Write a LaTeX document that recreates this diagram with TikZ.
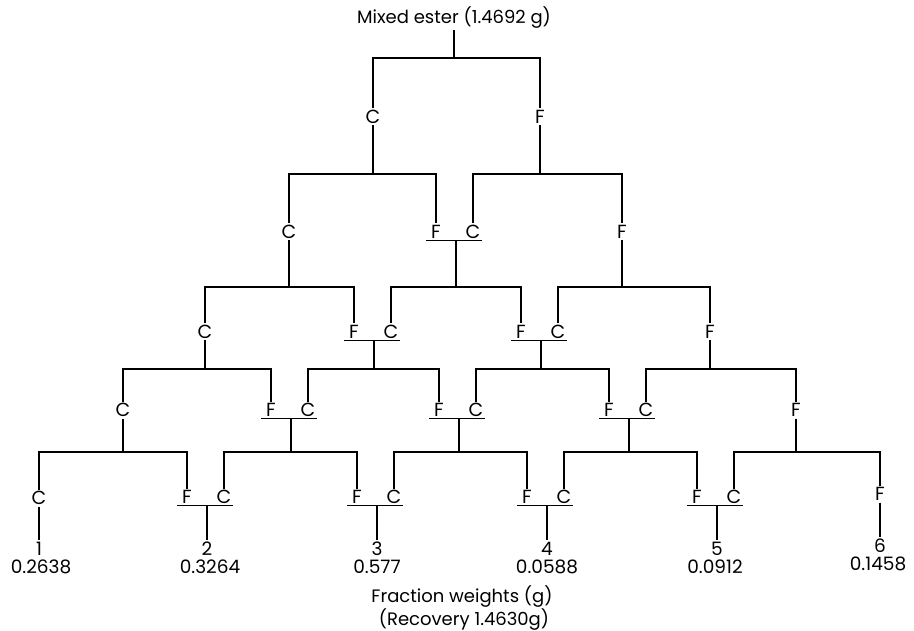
\documentclass[tikz,border=0pt]{standalone}
\usepackage{fontspec}
\setmainfont{Poppins}
\begin{document}
\begin{tikzpicture}[x=1pt,y=-1pt,
  lab/.style={inner sep=2pt,outer sep=0pt,text height=13pt,text depth=0pt,font=\fontsize{19}{19}\selectfont},
  txt/.style={inner sep=1pt,outer sep=0pt,font=\fontsize{18}{18}\selectfont},
  num/.style={inner sep=2pt,outer sep=0pt,font=\fontsize{18.5}{18.5}\selectfont},
  ln/.style={line width=1.4pt}]
\useasboundingbox (0,0) rectangle (914,631);
% title
\node[txt] (top) at (454,18) {Mixed ester (1.4692 g)};
% bar points
\coordinate (s00) at (454,58);
\coordinate (s10) at (373,174); \coordinate (s11) at (540,174);
\coordinate (s20) at (289,287); \coordinate (s21) at (456,287); \coordinate (s22) at (622,287);
\coordinate (s30) at (205,369); \coordinate (s31) at (374,369); \coordinate (s32) at (541,369); \coordinate (s33) at (710,369);
\coordinate (s40) at (123,452); \coordinate (s41) at (291,452); \coordinate (s42) at (459,452); \coordinate (s43) at (629,452); \coordinate (s44) at (796,452);
% level 1
\node[lab] (c10) at (373,117) {C};
\node[lab] (f11) at (540,117) {F};
% level 2
\node[lab] (c20) at (289,232) {C};
\node[lab] (f21) at (436,232) {F}; \node[lab] (c21) at (473,232) {C};
\node[lab] (f22) at (622,232) {F};
% level 3
\node[lab] (c30) at (205,332) {C};
\node[lab] (f31) at (354,332) {F}; \node[lab] (c31) at (391,332) {C};
\node[lab] (f32) at (521,332) {F}; \node[lab] (c32) at (558,332) {C};
\node[lab] (f33) at (710,332) {F};
% level 4
\node[lab] (c40) at (123,410) {C};
\node[lab] (f41) at (271,410) {F}; \node[lab] (c41) at (308,410) {C};
\node[lab] (f42) at (439,410) {F}; \node[lab] (c42) at (476,410) {C};
\node[lab] (f43) at (609,410) {F}; \node[lab] (c43) at (646,410) {C};
\node[lab] (f44) at (796,410) {F};
% level 5
\node[lab] (c50) at (39,498) {C};
\node[lab] (f51) at (187,497) {F}; \node[lab] (c51) at (224,497) {C};
\node[lab] (f52) at (357,497) {F}; \node[lab] (c52) at (394,497) {C};
\node[lab] (f53) at (527,497) {F}; \node[lab] (c53) at (564,497) {C};
\node[lab] (f54) at (697,497) {F}; \node[lab] (c54) at (734,497) {C};
\node[lab] (f55) at (880,494) {F};
% leaves
\node[num] (d1) at (39,549) {1};  \node[num] (w1) at (41,567) {0.2638};
\node[num] (d2) at (207,549) {2}; \node[num] (w2) at (210,567) {0.3264};
\node[num] (d3) at (377,549) {3}; \node[num] (w3) at (377,567) {0.577};
\node[num] (d4) at (547,549) {4}; \node[num] (w4) at (547,567) {0.0588};
\node[num] (d5) at (717,549) {5}; \node[num] (w5) at (715,567) {0.0912};
\node[num] (d6) at (880,546) {6}; \node[num] (w6) at (878,564) {0.1458};
\node[txt] (fw) at (462,597) {Fraction weights (g)};
\node[txt] (rec) at (464,620) {(Recovery 1.4630g)};
% stems
\draw[ln] (top.south) -- (s00);
\draw[ln] (c10.south) -- (s10); \draw[ln] (f11.south) -- (s11);
\draw[ln] (c20.south) -- (s20); \draw[ln] (f21.south west -| s21) -- (s21); \draw[ln] (f22.south) -- (s22);
\draw[ln] (c30.south) -- (s30); \draw[ln] (f31.south west -| s31) -- (s31); \draw[ln] (f32.south west -| s32) -- (s32); \draw[ln] (f33.south) -- (s33);
\draw[ln] (c40.south) -- (s40); \draw[ln] (f41.south west -| s41) -- (s41); \draw[ln] (f42.south west -| s42) -- (s42); \draw[ln] (f43.south west -| s43) -- (s43); \draw[ln] (f44.south) -- (s44);
\draw[ln] (c50.south) -- (d1.north); \draw[ln] (f51.south west -| d2) -- (d2.north); \draw[ln] (f52.south west -| d3) -- (d3.north);
\draw[ln] (f53.south west -| d4) -- (d4.north); \draw[ln] (f54.south west -| d5) -- (d5.north); \draw[ln] (f55.south) -- (d6.north);
% bars
\draw[ln] (c10.north) |- (s00) -| (f11.north);
\draw[ln] (c20.north) |- (s10) -| (f21.north); \draw[ln] (c21.north) |- (s11) -| (f22.north);
\draw[ln] (c30.north) |- (s20) -| (f31.north); \draw[ln] (c31.north) |- (s21) -| (f32.north); \draw[ln] (c32.north) |- (s22) -| (f33.north);
\draw[ln] (c40.north) |- (s30) -| (f41.north); \draw[ln] (c41.north) |- (s31) -| (f42.north); \draw[ln] (c42.north) |- (s32) -| (f43.north); \draw[ln] (c43.north) |- (s33) -| (f44.north);
\draw[ln] (c50.north) |- (s40) -| (f51.north); \draw[ln] (c51.north) |- (s41) -| (f52.north); \draw[ln] (c52.north) |- (s42) -| (f53.north); \draw[ln] (c53.north) |- (s43) -| (f54.north); \draw[ln] (c54.north) |- (s44) -| (f55.north);
% underlines
\foreach \k/\i in {2/1,3/1,3/2,4/1,4/2,4/3,5/1,5/2,5/3,5/4}
  \draw[ln] ([xshift=-3pt]f\k\i.south west) -- (f\k\i.south west -| c\k\i.south east);
\end{tikzpicture}
\end{document}
